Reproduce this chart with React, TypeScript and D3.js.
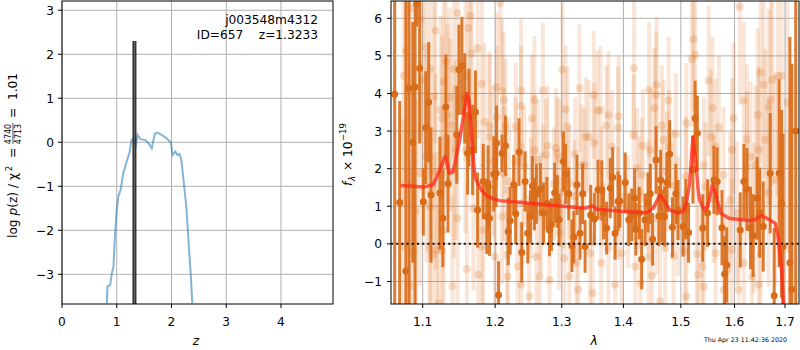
import * as d3 from 'd3';

// redshift probability curve (left panel)
const pzZ = [0.82, 0.83, 0.88, 0.91, 0.94, 0.97, 1.0, 1.03, 1.07, 1.12, 1.17, 1.23, 1.27, 1.3, 1.35, 1.38, 1.43, 1.52, 1.58, 1.64, 1.67, 1.7, 1.74, 1.82, 1.91, 1.99, 2.02, 2.07, 2.11, 2.15, 2.18, 2.22, 2.27, 2.31, 2.35, 2.38];
const pzLog = [-3.66, -3.28, -3.24, -2.98, -2.83, -2.07, -1.54, -1.23, -1.08, -0.7, -0.48, -0.25, 0.05, 0.09, -0.06, 0.17, 0.07, 0.05, -0.02, -0.14, 0.05, 0.2, 0.22, 0.17, 0.09, -0.01, -0.29, -0.21, -0.29, -0.27, -0.4, -0.86, -1.46, -2.22, -2.98, -3.66];
const zBest = 1.3233;
const zBestLogP = 2.3;

// best-fit model (right panel)
const modelWave = [1.071, 1.101, 1.114, 1.123, 1.13, 1.136, 1.141, 1.15, 1.16, 1.163, 1.167, 1.171, 1.173, 1.18, 1.189, 1.206, 1.252, 1.297, 1.337, 1.349, 1.356, 1.4, 1.44, 1.451, 1.463, 1.469, 1.48, 1.495, 1.504, 1.51, 1.516, 1.522, 1.528, 1.531, 1.534, 1.543, 1.549, 1.558, 1.564, 1.573, 1.589, 1.627, 1.64, 1.653, 1.666, 1.68, 1.686, 1.693, 1.697];
const modelFlux = [1.55, 1.51, 1.57, 1.97, 2.32, 1.88, 1.92, 2.77, 4.0, 3.83, 2.77, 1.79, 1.7, 1.44, 1.26, 1.15, 1.08, 1.01, 0.95, 1.01, 0.92, 0.86, 0.83, 0.95, 1.3, 1.17, 0.9, 0.82, 0.86, 1.08, 1.61, 2.85, 2.06, 1.52, 1.17, 0.9, 0.99, 1.57, 1.35, 0.82, 0.68, 0.62, 0.64, 0.75, 0.66, 0.55, 0.19, -0.69, -1.7];

// spectrum points [wavelength (um), flux, error]
const darkPoints = [
  [1.0636, 3.98, 6], [1.070, 1.1, 2.7], [1.078, -0.72, 7.5], [1.082, 4.14, 6], [1.087, 2.7, 3.2],
  [1.090, 4.17, 6], [1.092, 6.38, 0.6], [1.096, 4.67, 2.0], [1.1008, 1.12, 0.9], [1.104, 3.09, 1.5],
  [1.108, 3.77, 1.6], [1.111, 1.3, 1.8], [1.123, 1.35, 1.5], [1.127, 0.68, 1.3], [1.131, 3.64, 1.4],
  [1.134, 1.6, 1.3], [1.146, 2.9, 1.3], [1.149, 4.63, 1.2], [1.153, 4.74, 1.3], [1.157, 3.87, 1.2],
  [1.161, 2.41, 1.1], [1.163, 3.36, 1.3], [1.168, 2.5, 1.2], [1.172, 3.51, 1.1], [1.175, 0.9, 1.0],
  [1.183, 1.66, 1.0], [1.188, 0.73, 1.0], [1.19, 1.52, 1.1], [1.192, 0.68, 1.0], [1.198, 1.86, 1.0],
  [1.2015, 1.88, 0.9], [1.202, 2.68, 1.0], [1.205, -1.36, 0.9], [1.21, 2.41, 0.5], [1.215, 2.61, 0.8],
  [1.219, 0.33, 0.9], [1.222, 0.62, 0.9], [1.227, 1.57, 0.8], [1.23, 0.8, 0.8], [1.235, 2.44, 0.9],
  [1.239, -0.23, 0.8], [1.244, 1.66, 0.8], [1.248, 0.28, 0.8], [1.252, 0.73, 0.7], [1.255, 1.54, 0.8],
  [1.258, 1.06, 0.7], [1.261, 1.33, 0.8], [1.267, 1.45, 0.7], [1.272, 0.82, 0.8], [1.277, 1.08, 0.7],
  [1.281, 0.37, 0.7], [1.284, 0.51, 0.7], [1.289, 1.36, 0.8], [1.293, 1.13, 0.7], [1.296, 0.64, 0.7],
  [1.3026, 2.19, 0.8], [1.306, 1.86, 0.8], [1.311, 1.33, 0.7], [1.316, -0.05, 0.7], [1.319, 0.18, 0.7],
  [1.324, 1.57, 0.8], [1.329, 0.28, 0.7], [1.333, 1.33, 0.8], [1.337, -0.07, 0.7], [1.346, 0.77, 0.8],
  [1.352, 0.66, 0.7], [1.358, 1.44, 0.8], [1.364, 1.42, 0.8], [1.367, 0.82, 0.7], [1.372, 0.42, 0.7],
  [1.378, 1.48, 0.8], [1.382, 1.77, 0.8], [1.386, 0.28, 0.7], [1.391, 1.13, 0.8], [1.394, 1.13, 0.7],
  [1.403, 1.63, 0.8], [1.409, 0.64, 0.7], [1.414, 0.77, 0.7], [1.419, 1.21, 0.8], [1.421, 0.39, 0.7],
  [1.427, 0.82, 0.7], [1.431, -0.41, 0.8], [1.437, 0.64, 0.7], [1.442, 1.1, 0.8], [1.446, 1.33, 0.8],
  [1.45, 0.12, 0.7], [1.456, 2.23, 0.9], [1.461, 0.74, 0.8], [1.464, 1.7, 0.8], [1.466, 0.74, 0.7],
  [1.471, 0.73, 0.8], [1.475, 1.63, 0.8], [1.48, 2.39, 0.9], [1.485, 0.44, 0.8], [1.491, 1.33, 0.8],
  [1.495, 0.9, 0.8], [1.504, 0.46, 0.8], [1.509, 0.92, 0.8], [1.514, 0.3, 0.8], [1.522, 1.97, 0.9],
  [1.526, 3.34, 1.0], [1.53, 2.94, 1.0], [1.54, 0.42, 0.9], [1.549, 0.82, 0.9], [1.561, 1.7, 0.9],
  [1.567, 1.66, 0.9], [1.576, 0.43, 1.0], [1.581, -0.8, 1.0], [1.585, -0.56, 1.0], [1.611, 0.37, 1.0],
  [1.618, 1.66, 1.0], [1.624, 1.45, 1.1], [1.631, 0.42, 1.1], [1.636, 0.22, 1.1], [1.644, 1.21, 1.1],
  [1.649, 0.83, 1.2], [1.656, 0.46, 1.2], [1.67, 1.88, 1.6], [1.678, -1.38, 1.8], [1.688, 1.88, 2.5],
  [1.693, 1.06, 2.5], [1.696, -0.07, 3.0], [1.71, -0.5, 6.0], [1.714, -1.21, 6.0], [1.722, 3.0, 6.0],
];

const lightPoints = [
  [1.084, 6.27, 3.5], [1.097, 5.98, 3.2], [1.117, 5.67, 3.0], [1.147, 6.14, 2.6], [1.162, 5.74, 2.4],
  [1.165, 6.06, 2.8], [1.105, 5.22, 3.0], [1.078, 5.14, 3.5], [1.175, 5.2, 2.4], [1.167, 5.07, 2.2],
  [1.131, 4.85, 2.6], [1.142, 4.65, 2.4], [1.11, 4.65, 2.8], [1.075, 4.47, 3.5], [1.101, 4.36, 3.0],
  [1.128, 4.32, 2.5], [1.181, 4.26, 2.2], [1.158, 4.49, 2.3], [1.115, 3.92, 2.6], [1.136, 3.88, 2.4],
  [1.124, 3.56, 2.5], [1.126, 3.34, 2.2], [1.133, 3.43, 2.4], [1.137, 3.16, 2.3], [1.185, 3.25, 2.1],
  [1.192, 3.12, 2.0], [1.192, 2.85, 2.2], [1.144, 2.5, 2.4], [1.158, 2.48, 2.2], [1.105, 2.32, 2.8],
  [1.197, 2.19, 2.0], [1.117, 1.92, 2.6], [1.142, 1.92, 2.3], [1.096, 1.88, 3.0], [1.083, 1.57, 3.2],
  [1.11, 0.99, 2.7], [1.091, 0.86, 3.0], [1.169, 0.95, 2.2], [1.147, 0.68, 2.4], [1.183, 0.37, 2.1],
  [1.128, 0.37, 2.5], [1.075, -0.07, 3.4], [1.088, -0.2, 3.0], [1.109, -0.11, 2.8], [1.119, -0.16, 2.6],
  [1.114, -0.29, 2.7], [1.126, -0.2, 2.5], [1.181, -0.07, 2.2], [1.16, -0.67, 2.3], [1.176, -0.82, 2.2],
  [1.083, -1.12, 3.2], [1.14, -1.12, 2.4], [1.121, -1.58, 2.6],
  [1.2076, 6.4, 2.2], [1.2024, 4.17, 2.0], [1.21, 4.08, 1.9], [1.2126, 3.83, 1.8], [1.238, 4.08, 1.9],
  [1.271, 4.08, 1.8], [1.258, 3.83, 1.7], [1.238, 3.67, 1.6], [1.2024, 3.37, 1.9], [1.215, 3.12, 1.8],
  [1.23, 3.12, 1.7], [1.301, 4.63, 1.8], [1.328, 4.14, 1.7], [1.351, 3.96, 1.7], [1.357, 3.54, 1.6],
  [1.306, 3.58, 1.7], [1.309, 3.12, 1.6], [1.254, 3.34, 1.7], [1.278, 2.61, 1.6], [1.258, 2.48, 1.5],
  [1.291, 2.55, 1.6], [1.293, 2.41, 1.5], [1.338, 2.84, 1.6], [1.343, 2.85, 1.5], [1.352, 2.68, 1.6],
  [1.321, 2.39, 1.5], [1.331, 2.1, 1.6], [1.336, 2.1, 1.5], [1.243, 2.07, 1.6], [1.23, 2.19, 1.7],
  [1.263, 2.23, 1.6], [1.276, 2.37, 1.5], [1.296, 2.25, 1.6], [1.312, 1.63, 1.5], [1.22, 1.66, 1.7],
  [1.2126, 1.86, 1.8], [1.271, 1.57, 1.6], [1.288, 1.6, 1.5], [1.303, 1.39, 1.5], [1.32, 1.26, 1.5],
  [1.253, 1.22, 1.6], [1.21, 0.73, 1.8], [1.24, 1.08, 1.6], [1.268, 0.82, 1.6], [1.296, 0.28, 1.5],
  [1.2, -0.34, 1.9], [1.218, -0.29, 1.8], [1.261, -0.34, 1.6], [1.304, -0.38, 1.5], [1.233, -0.6, 1.7],
  [1.323, -0.51, 1.6], [1.345, -0.25, 1.5], [1.266, -0.87, 1.6], [1.281, -0.96, 1.5], [1.218, -0.87, 1.8],
  [1.238, -1.09, 1.7], [1.25, -1.4, 1.6], [1.326, -1.22, 1.5], [1.349, -1.31, 1.6], [1.312, -0.87, 1.5],
  [1.418, 4.67, 1.9], [1.444, 4.1, 1.8], [1.457, 4.23, 1.8], [1.456, 3.96, 1.7], [1.478, 3.81, 1.7],
  [1.453, 3.61, 1.6], [1.466, 3.14, 1.6], [1.523, 5.44, 1.9], [1.526, 5.03, 2.0], [1.52, 4.91, 1.8],
  [1.51, 3.21, 1.6], [1.491, 2.93, 1.6], [1.479, 2.59, 1.5], [1.469, 2.77, 1.6], [1.375, 3.43, 1.7],
  [1.392, 3.39, 1.6], [1.391, 3.1, 1.6], [1.417, 2.9, 1.6], [1.381, 2.59, 1.5], [1.362, 3.56, 1.7],
  [1.372, 3.14, 1.6], [1.433, 2.61, 1.5], [1.446, 2.5, 1.6], [1.431, 1.84, 1.5], [1.423, 2.01, 1.6],
  [1.426, 1.36, 1.5], [1.443, 1.26, 1.5], [1.475, 1.92, 1.6], [1.509, 1.79, 1.6], [1.487, 1.54, 1.5],
  [1.364, 1.52, 1.6], [1.391, 1.08, 1.5], [1.408, 0.86, 1.5], [1.457, 0.68, 1.5], [1.495, 0.73, 1.6],
  [1.375, -0.11, 1.5], [1.397, -0.25, 1.6], [1.363, -0.51, 1.5], [1.42, -0.6, 1.6], [1.449, -0.85, 1.5],
  [1.472, -0.11, 1.6], [1.487, -0.32, 1.6], [1.507, -0.2, 1.7], [1.529, -0.27, 1.8], [1.386, -1.09, 1.6],
  [1.429, -1.05, 1.5], [1.463, -1.53, 1.6], [1.51, -1.4, 1.7], [1.532, -0.82, 1.8], [1.443, -0.34, 1.5],
  [1.61, 6.31, 2.6], [1.551, 4.34, 2.0], [1.558, 3.61, 1.9], [1.618, 3.81, 2.1], [1.598, 3.34, 2.0],
  [1.651, 4.56, 2.4], [1.674, 4.36, 2.8], [1.657, 4.23, 2.5], [1.685, 4.47, 3.2], [1.693, 4.47, 3.4],
  [1.671, 3.83, 2.8], [1.667, 3.64, 2.6], [1.705, 3.76, 4.0], [1.645, 3.43, 2.3], [1.57, 3.1, 1.9],
  [1.555, 2.85, 1.8], [1.564, 2.59, 1.8], [1.595, 2.5, 1.9], [1.624, 2.78, 2.0], [1.631, 2.32, 2.0],
  [1.647, 2.5, 2.2], [1.66, 2.77, 2.4], [1.542, 2.1, 1.8], [1.579, 1.84, 1.8], [1.545, 1.52, 1.7],
  [1.592, 1.17, 1.8], [1.624, 2.06, 2.0], [1.641, 2.1, 2.1], [1.68, 1.7, 2.8], [1.667, 1.35, 2.5],
  [1.561, 1.19, 1.7], [1.605, 0.82, 1.9], [1.637, 0.68, 2.0], [1.539, -0.6, 1.7], [1.564, -0.25, 1.8],
  [1.595, -0.16, 1.9], [1.618, -0.51, 1.9], [1.651, -0.25, 2.2], [1.634, -0.87, 2.0], [1.608, -1.22, 1.9],
  [1.647, -1.09, 2.1], [1.542, -1.14, 1.7], [1.579, -1.22, 1.8], [1.586, -0.69, 1.8],
];

const zTicks = [0, 1, 2, 3, 4];
const pTicks = [-3, -2, -1, 0, 1, 2, 3];
const waveTicks = [1.1, 1.2, 1.3, 1.4, 1.5, 1.6, 1.7];
const fluxTicks = [-1, 0, 1, 2, 3, 4, 5, 6];

const width = 800;
const height = 350;
const font = 'DejaVu Sans, sans-serif';
const top = 1;
const bottom = 304;
const orange = '#d96c18';

export default function App() {
  const xL = d3.scaleLinear().domain([0, 4.95]).range([62, 333]);
  const yL = d3.scaleLinear().domain([-3.675, 3.21]).range([bottom, top]);
  const xR = d3.scaleLog().domain([1.0589, 1.7288]).range([391, 799]);
  const yR = d3.scaleLinear().domain([-1.6, 6.46]).range([bottom, top]);

  const pzLine = d3.line<number>().x((d, i) => xL(pzZ[i])).y(d => yL(d));
  const modelLine = d3.line<number>().x((d, i) => xR(modelWave[i])).y(d => yR(d));
  const fmt = d3.format('d');
  const fmtW = d3.format('.1f');

  return (
    <svg width={width} height={height} viewBox={`0 0 ${width} ${height}`}
      style={{ position: 'fixed', left: 0, top: 0, background: '#fff' }} fontFamily={font}>
      <defs>
        <clipPath id="clipL"><rect x={62} y={top} width={271} height={bottom - top} /></clipPath>
        <clipPath id="clipR"><rect x={391} y={top} width={408} height={bottom - top} /></clipPath>
      </defs>

      {/* left panel: p(z) */}
      <g>
        {zTicks.map(t => <line key={'gx' + t} x1={xL(t)} x2={xL(t)} y1={top} y2={bottom} stroke="#b0b0b0" strokeWidth={1} />)}
        {pTicks.map(t => <line key={'gy' + t} x1={62} x2={333} y1={yL(t)} y2={yL(t)} stroke="#b0b0b0" strokeWidth={1} />)}
        <g clipPath="url(#clipL)">
          <path d={pzLine(pzLog) || ''} fill="none" stroke="#1f77b4" strokeOpacity={0.55} strokeWidth={2} />
          <line x1={xL(zBest) - 1} x2={xL(zBest) - 1} y1={yL(zBestLogP)} y2={bottom} stroke="#333" strokeWidth={2} />
          <line x1={xL(zBest) + 1} x2={xL(zBest) + 1} y1={yL(zBestLogP)} y2={bottom} stroke="#333" strokeWidth={2} />
        </g>
        <rect x={62} y={top} width={271} height={bottom - top} fill="none" stroke="#000" strokeWidth={1} />
        {zTicks.map(t => (
          <g key={'tx' + t}>
            <line x1={xL(t)} x2={xL(t)} y1={bottom} y2={bottom + 4} stroke="#000" />
            <text x={xL(t)} y={326} fontSize={12.2} textAnchor="middle">{fmt(t)}</text>
          </g>
        ))}
        {pTicks.map(t => (
          <g key={'ty' + t}>
            <line x1={58} x2={62} y1={yL(t)} y2={yL(t)} stroke="#000" />
            <text x={54} y={yL(t) + 4.5} fontSize={12.2} textAnchor="end">{fmt(t)}</text>
          </g>
        ))}
        <text x={318} y={24} fontSize={12.2} textAnchor="end">j003548m4312</text>
        <text x={318} y={39} fontSize={12.2} textAnchor="end" xmlSpace="preserve">ID=657    z=1.3233</text>
        <text x={196} y={345} fontSize={12.2} fontStyle="italic" textAnchor="middle">z</text>
        <g transform="translate(12,238) rotate(-90)" fontSize={12.2}>
          <text x={0} y={5}>log <tspan fontStyle="italic">p</tspan>(z) / χ</text>
          <text x={67} y={-0.5} fontSize={8}>2</text>
          <text x={80} y={5}>=</text>
          <text x={104} y={-1} fontSize={8} textAnchor="middle">4740</text>
          <line x1={94} x2={115} y1={1} y2={1} stroke="#000" strokeWidth={0.7} />
          <text x={104} y={8.5} fontSize={8} textAnchor="middle">4713</text>
          <text x={120} y={5} xmlSpace="preserve">=  1.01</text>
        </g>
      </g>

      {/* right panel: spectrum */}
      <g>
        {waveTicks.map(t => <line key={'gw' + t} x1={xR(t)} x2={xR(t)} y1={top} y2={bottom} stroke="#b0b0b0" strokeWidth={1} />)}
        {fluxTicks.map(t => <line key={'gf' + t} x1={391} x2={799} y1={yR(t)} y2={yR(t)} stroke="#b0b0b0" strokeWidth={1} />)}
        <g clipPath="url(#clipR)">
          {lightPoints.map((d, i) => (
            <line key={'le' + i} x1={xR(d[0])} x2={xR(d[0])} y1={yR(d[1] - d[2])} y2={yR(d[1] + d[2])}
              stroke={orange} strokeOpacity={0.17} strokeWidth={4} />
          ))}
          {lightPoints.map((d, i) => (
            <circle key={'lp' + i} cx={xR(d[0])} cy={yR(d[1])} r={4} fill={orange} fillOpacity={0.22} />
          ))}
          {darkPoints.map((d, i) => (
            <line key={'de' + i} x1={xR(d[0])} x2={xR(d[0])} y1={yR(d[1] - d[2])} y2={yR(d[1] + d[2])}
              stroke={orange} strokeOpacity={0.9} strokeWidth={3} />
          ))}
          {darkPoints.map((d, i) => (
            <circle key={'dp' + i} cx={xR(d[0])} cy={yR(d[1])} r={3.5} fill={orange} />
          ))}
          <path d={modelLine(modelFlux) || ''} fill="none" stroke="#ff2a1a" strokeOpacity={0.75} strokeWidth={3.5} strokeLinejoin="round" />
          <line x1={391} x2={799} y1={yR(0)} y2={yR(0)} stroke="#111" strokeWidth={2} strokeDasharray="2,3.2" />
        </g>
        <rect x={391} y={top} width={408} height={bottom - top} fill="none" stroke="#000" strokeWidth={1} />
        {waveTicks.map(t => (
          <g key={'tw' + t}>
            <line x1={xR(t)} x2={xR(t)} y1={bottom} y2={bottom + 4} stroke="#000" />
            <text x={xR(t)} y={326} fontSize={12.2} textAnchor="middle">{fmtW(t)}</text>
          </g>
        ))}
        {fluxTicks.map(t => (
          <g key={'tf' + t}>
            <line x1={387} x2={391} y1={yR(t)} y2={yR(t)} stroke="#000" />
            <text x={382} y={yR(t) + 4.5} fontSize={12.2} textAnchor="end">{fmt(t)}</text>
          </g>
        ))}
        <text x={594} y={345} fontSize={12.2} fontStyle="italic" textAnchor="middle">λ</text>
        <g transform="translate(347,186) rotate(-90)" fontSize={12.2}>
          <text x={0} y={5}><tspan fontStyle="italic">f</tspan></text>
          <text x={5} y={8} fontSize={8.5} fontStyle="italic">λ</text>
          <text x={15} y={5}>× 10</text>
          <text x={45} y={-1} fontSize={8.5}>−19</text>
        </g>
        <text x={787} y={342} fontSize={6.3} textAnchor="end">Thu Apr 23 11:42:36 2020</text>
      </g>
    </svg>
  );
}
